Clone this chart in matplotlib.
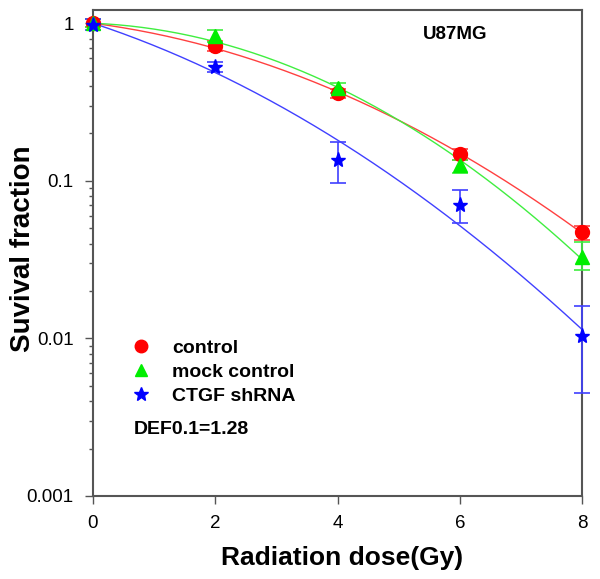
import numpy as np
import matplotlib
matplotlib.use("Agg")
import matplotlib.pyplot as plt
from matplotlib.ticker import LogLocator, NullFormatter, FixedLocator, FixedFormatter

plt.rcParams['font.family'] = ['Liberation Sans', 'DejaVu Sans']

# data
dose = [0, 2, 4, 6, 8]
control = [1.0, 0.72, 0.36, 0.148, 0.047]
control_lo = [0.06, 0.05, 0.025, 0.012, 0.005]
control_hi = [0.06, 0.05, 0.025, 0.012, 0.005]
mock = [1.0, 0.83, 0.39, 0.126, 0.033]
mock_lo = [0.06, 0.07, 0.03, 0.014, 0.006]
mock_hi = [0.06, 0.07, 0.03, 0.010, 0.008]
ctgf = [0.98, 0.53, 0.136, 0.070, 0.0103]
ctgf_lo = [0.08, 0.04, 0.039, 0.016, 0.0058]
ctgf_hi = [0.08, 0.04, 0.040, 0.017, 0.0058]

series = [
    ("control", control, control_lo, control_hi, "#ff0000", "o", 10, "#ff4040"),
    ("mock control", mock, mock_lo, mock_hi, "#00ee00", "^", 10, "#40ee40"),
    ("CTGF shRNA", ctgf, ctgf_lo, ctgf_hi, "#0000ff", "*", 11, "#4040ff"),
]

fig = plt.figure(figsize=(6.0, 5.79), dpi=100)
ax = fig.add_axes([0.155, 0.1434, 0.815, 0.839])

D = np.array(dose, dtype=float)
xx = np.linspace(0, 8, 200)
handles = []
for name, vals, lo, hi, col, mk, ms, lcol in series:
    # linear-quadratic fit through the origin: ln S = -aD - bD^2
    A = np.column_stack([D, D ** 2])
    coef = np.linalg.lstsq(A, -np.log(vals), rcond=None)[0]
    ax.plot(xx, np.exp(-coef[0] * xx - coef[1] * xx ** 2), color=lcol, lw=1.0, zorder=2)
    ax.errorbar(dose, vals, yerr=[lo, hi], fmt="none", ecolor=lcol, elinewidth=1.2,
                capsize=6, capthick=1.2, zorder=3, clip_on=False)
    ax.plot(dose, vals, ls="none", marker=mk, color=col, ms=ms, zorder=4, clip_on=False)
    h, = ax.plot([], [], ls="none", marker=mk, color=col, ms=ms - 1)
    handles.append(h)

ax.set_yscale("log")
ax.set_xlim(0, 8)
ax.set_ylim(0.001, 1.21)
ax.set_xticks([0, 2, 4, 6, 8])
ax.yaxis.set_major_locator(FixedLocator([0.001, 0.01, 0.1, 1]))
ax.yaxis.set_major_formatter(FixedFormatter(["0.001", "0.01", "0.1", "1"]))
ax.yaxis.set_minor_locator(LogLocator(base=10, subs=np.arange(2, 10)))
ax.yaxis.set_minor_formatter(NullFormatter())

for s in ax.spines.values():
    s.set_color("#555555")
    s.set_linewidth(1.5)
ax.tick_params(axis="both", which="major", direction="out", length=6, width=1,
               color="#555555", labelsize=13.5)
ax.tick_params(axis="x", which="major", pad=8)
ax.tick_params(axis="y", which="major", pad=8)
ax.tick_params(axis="y", which="minor", direction="out", length=3, width=1, color="#555555")

ax.set_xlabel("Radiation dose(Gy)", fontsize=19, fontweight="bold")
ax.set_ylabel("Suvival fraction", fontsize=20, fontweight="bold")
ax.xaxis.set_label_coords(0.51, -0.103)
ax.yaxis.set_label_coords(-0.117, 0.51)

leg = ax.legend(handles, [s[0] for s in series], loc="center left",
                bbox_to_anchor=(0.078, 0.2545), frameon=False, borderpad=0,
                borderaxespad=0, handlelength=1.0, handletextpad=1.1,
                labelspacing=0.33, prop={"size": 14, "weight": "bold"})
ax.text(0.084, 0.136, "DEF0.1=1.28", transform=ax.transAxes, fontsize=14,
        fontweight="bold", va="center")
ax.text(0.740, 0.949, "U87MG", transform=ax.transAxes, fontsize=13.5,
        fontweight="bold", va="center", ha="center")

fig.savefig("out.png", dpi=100)
